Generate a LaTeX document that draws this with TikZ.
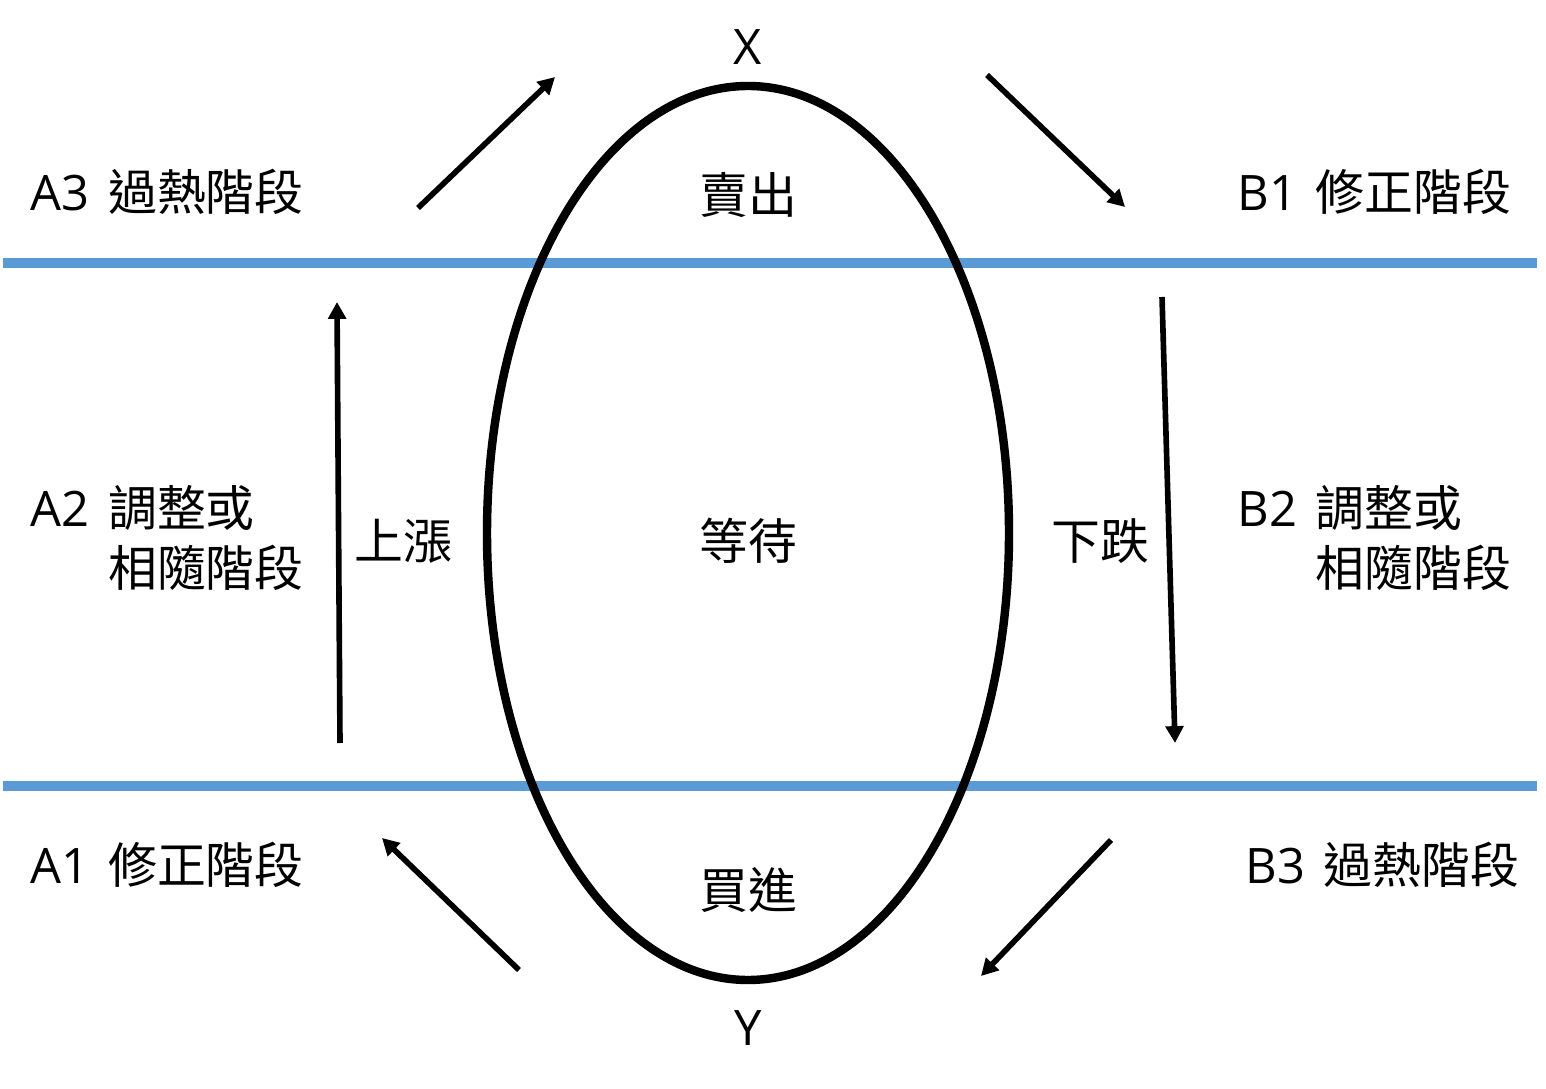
\documentclass[tikz,border=0pt]{standalone}
\usepackage{fontspec}
\setmainfont{Noto Sans CJK TC}
\newfontfamily\latinfont{Open Sans}
\usetikzlibrary{arrows.meta}
\definecolor{bandblue}{RGB}{91,155,213}
\newcommand{\gap}{\hspace{0.38em}}
\newcommand{\tag}[1]{{\latinfont #1}\gap}
\tikzset{
  band/.style={line width=2.85pt,bandblue},
  arr/.style={line width=1.6pt,-{Triangle[length=4.8pt,width=5pt]}},
  lbl/.style={inner sep=0pt,font=\fontsize{13.9pt}{16.8pt}\selectfont},
}
\begin{document}
\begin{tikzpicture}[x=0.01cm,y=-0.01cm]
  \useasboundingbox (0,0) rectangle (1546,1089);
  \draw[band] (3,263) -- (1537,263); % upper band
  \draw[band] (3,786) -- (1537,786); % lower band
  \draw[line width=2.4pt] (748,533) ellipse [x radius=261, y radius=447];
  % labels round the ring
  \node[lbl] (x) at (748,47) {\latinfont X};
  \node[lbl] (y) at (748,1028) {\latinfont Y};
  \node[lbl] (sell) at (748,195) {賣出};
  \node[lbl] (wait) at (748,541) {等待};
  \node[lbl] (buy) at (748,890) {買進};
  \node[lbl] (up) at (403,541) {上漲};
  \node[lbl] (down) at (1100,541) {下跌};
  % phases
  \node[lbl,anchor=west] (a3) at (30,192) {\tag{A3}過熱階段};
  \node[lbl,anchor=west,align=left] (a2) at (30,538) {\tag{A2}調整或\\\phantom{\tag{A2}}相隨階段};
  \node[lbl,anchor=west] (a1) at (30,865) {\tag{A1}修正階段};
  \node[lbl,anchor=west] (b1) at (1237,192) {\tag{B1}修正階段};
  \node[lbl,anchor=west,align=left] (b2) at (1237,538) {\tag{B2}調整或\\\phantom{\tag{B2}}相隨階段};
  \node[lbl,anchor=west] (b3) at (1245,865) {\tag{B3}過熱階段};
  % arrow ends
  \coordinate (p1) at (418,208); \coordinate (q1) at (555,77);
  \coordinate (p2) at (987,75);  \coordinate (q2) at (1125,207);
  \coordinate (p3) at (340,743); \coordinate (q3) at (337,302);
  \coordinate (p4) at (1162,297); \coordinate (q4) at (1175,743);
  \coordinate (p5) at (519,970); \coordinate (q5) at (382,838);
  \coordinate (p6) at (1111,840); \coordinate (q6) at (981,976);
  \foreach \i in {1,...,6} % arrows
    \draw[arr] (p\i) -- (q\i);
\end{tikzpicture}
\end{document}
